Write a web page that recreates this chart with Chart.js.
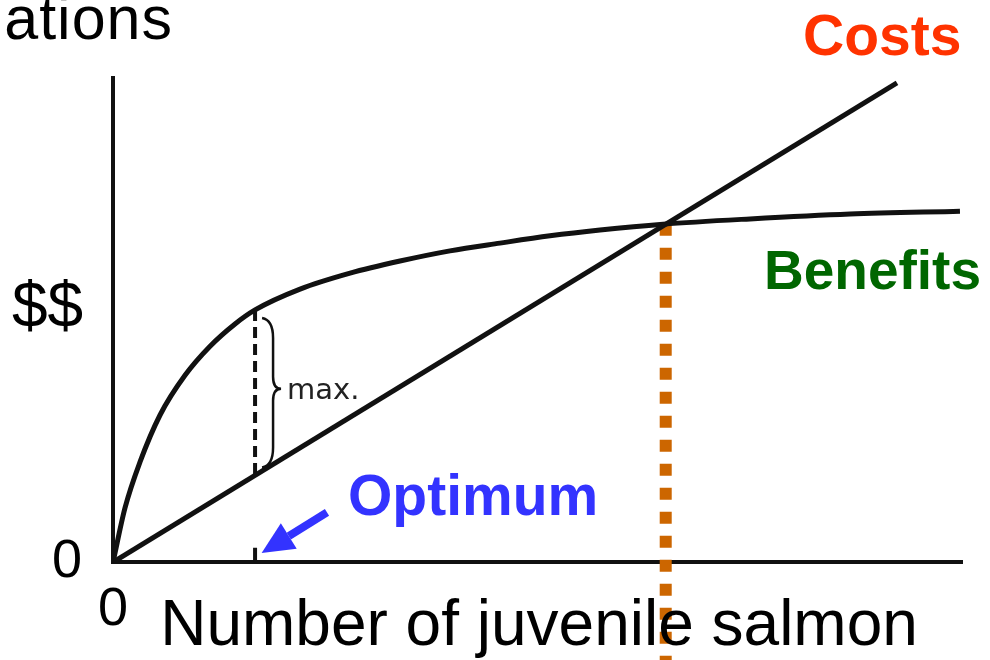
<!DOCTYPE html>
<html>
<head>
<meta charset="utf-8">
<script src="https://cdn.jsdelivr.net/npm/chart.js@4.4.1/dist/chart.umd.min.js"></script>
<style>
html,body{margin:0;padding:0;background:#fff;}
canvas{display:block;}
</style>
</head>
<body>
<canvas id="c" width="990" height="660"></canvas>
<script>
// ---- data (axes run 0..100 in both directions) ----
const benefitX = [0, 1.41, 3.18, 5.54, 8.48, 11.43, 14.37, 16.73, 22.03, 27.92, 33.80, 39.69, 45.58, 51.47, 57.36, 64.78, 75.03, 86.81, 99.76];
const benefitY = [0, 11.2, 20.7, 30.4, 38.6, 44.6, 49.2, 52.1, 56.4, 59.7, 62.2, 64.3, 65.9, 67.4, 68.6, 69.8, 70.9, 71.9, 72.5];
const costX = [0, 92.34];
const costY = [0, 98.97];
const optimumX = 16.73;          // benefit - cost is largest here
const maxTopY = 52.1;            // benefits at optimum
const maxBottomY = 17.9;         // costs at optimum
const optimumTickY = [0, 3];     // short tick on the x axis
const crossX = 65.1;             // where costs overtake benefits
const crossY = [69.9, -20.5];    // dotted line runs below the axis
const arrowTail = {x: 25.2, y: 10.3};
const arrowTip = {x: 17.5, y: 1.9};
const tickLabels = ['0'];
const labels = {
  title: 'ations', yTitle: '$$', xTitle: 'Number of juvenile salmon',
  costs: 'Costs', benefits: 'Benefits', optimum: 'Optimum', max: 'max.'
};

const pts = (xs, ys) => xs.map((x, i) => ({x: x, y: ys[i]}));
const FONT = '"Liberation Sans", Arial, Helvetica, sans-serif';

const annotations = {
  id: 'annotations',
  afterDraw(chart) {
    const c = chart.ctx, xs = chart.scales.x, ys = chart.scales.y;
    c.save();
    // arrow
    const tx = xs.getPixelForValue(arrowTip.x), ty = ys.getPixelForValue(arrowTip.y);
    const sx = xs.getPixelForValue(arrowTail.x), sy = ys.getPixelForValue(arrowTail.y);
    const ang = Math.atan2(ty - sy, tx - sx);
    const headLen = 32, headW = 15;
    const bx = tx - headLen * Math.cos(ang), by = ty - headLen * Math.sin(ang);
    c.strokeStyle = '#3333ff'; c.fillStyle = '#3333ff';
    c.lineWidth = 8; c.lineCap = 'butt';
    c.beginPath(); c.moveTo(sx, sy); c.lineTo(bx, by); c.stroke();
    c.beginPath();
    c.moveTo(tx, ty);
    c.lineTo(bx + headW * Math.sin(ang), by - headW * Math.cos(ang));
    c.lineTo(bx - headW * Math.sin(ang), by + headW * Math.cos(ang));
    c.closePath(); c.fill();

    // brace next to the max distance
    const px = xs.getPixelForValue(optimumX);
    const top = ys.getPixelForValue(maxTopY) + 8, bot = ys.getPixelForValue(maxBottomY) - 8;
    const mid = (top + bot) / 2 - 4;
    const x0 = px + 7, x1 = px + 18, x2 = px + 26;
    c.strokeStyle = '#111'; c.lineWidth = 2.5;
    c.beginPath();
    c.moveTo(x0, top);
    c.quadraticCurveTo(x1, top + 2, x1, top + 20);
    c.lineTo(x1, mid - 12);
    c.quadraticCurveTo(x1, mid, x2, mid);
    c.quadraticCurveTo(x1, mid, x1, mid + 12);
    c.lineTo(x1, bot - 20);
    c.quadraticCurveTo(x1, bot - 2, x0, bot);
    c.stroke();

    // texts
    c.textBaseline = 'alphabetic';
    c.fillStyle = '#222';
    c.font = '29px "DejaVu Sans", sans-serif';
    c.textAlign = 'left';
    c.fillText(labels.max, px + 32, mid + 10);

    c.fillStyle = '#000';
    c.font = '61px ' + FONT;
    c.textAlign = 'right';
    try { c.letterSpacing = '1px'; } catch (e) {}
    c.fillText(labels.title, 173, 39);
    try { c.letterSpacing = '0px'; } catch (e) {}

    c.textAlign = 'left';
    c.font = '64px ' + FONT;
    c.fillText(labels.yTitle, 12, 327);

    c.textAlign = 'center';
    c.fillText(labels.xTitle, 539, 645);

    c.textAlign = 'left';
    c.font = 'bold 57px ' + FONT;
    c.fillStyle = '#3333ff';
    c.fillText(labels.optimum, 348, 515);

    c.font = 'bold 55px ' + FONT;
    c.fillStyle = '#006600';
    c.fillText(labels.benefits, 764, 289);

    c.font = 'bold 57px ' + FONT;
    c.fillStyle = '#ff3300';
    c.fillText(labels.costs, 803, 55);
    c.restore();
  }
};

const onlyZero = (axis) => { axis.ticks = tickLabels.map(t => ({value: Number(t)})); };

new Chart(document.getElementById('c'), {
  type: 'line',
  data: {
    datasets: [
      {label: 'Costs', data: pts(costX, costY), borderColor: '#111', borderWidth: 5, pointRadius: 0, tension: 0},
      {label: 'Benefits', data: pts(benefitX, benefitY), borderColor: '#111', borderWidth: 5, pointRadius: 0, cubicInterpolationMode: 'monotone'},
      {label: 'max', data: pts([optimumX, optimumX], [maxTopY, maxBottomY]), borderColor: '#111', borderWidth: 4, borderDash: [11, 6], pointRadius: 0},
      {label: 'optimum tick', data: pts([optimumX, optimumX], optimumTickY), borderColor: '#111', borderWidth: 4, pointRadius: 0},
      {label: 'break-even', data: pts([crossX, crossX], crossY), borderColor: '#cc6600', borderWidth: 12, borderDash: [12, 12], borderCapStyle: 'butt', pointRadius: 0, clip: false}
    ]
  },
  options: {
    responsive: false,
    animation: false,
    layout: {padding: {left: 21, right: 28, top: 78, bottom: 1}},
    plugins: {legend: {display: false}, tooltip: {enabled: false}, title: {display: false}},
    scales: {
      x: {
        type: 'linear', min: 0, max: 100,
        grid: {display: false, drawTicks: false, tickLength: 0},
        border: {display: true, color: '#111', width: 4},
        afterBuildTicks: onlyZero,
        ticks: {font: {size: 54, family: FONT}, color: '#000', padding: 16, maxRotation: 0, autoSkip: false}
      },
      y: {
        type: 'linear', min: 0, max: 100,
        grid: {display: false, drawTicks: false, tickLength: 0},
        border: {display: true, color: '#111', width: 4},
        afterBuildTicks: onlyZero,
        ticks: {font: {size: 54, family: FONT}, color: '#000', padding: 31, autoSkip: false}
      }
    }
  },
  plugins: [annotations]
});
</script>
</body>
</html>
